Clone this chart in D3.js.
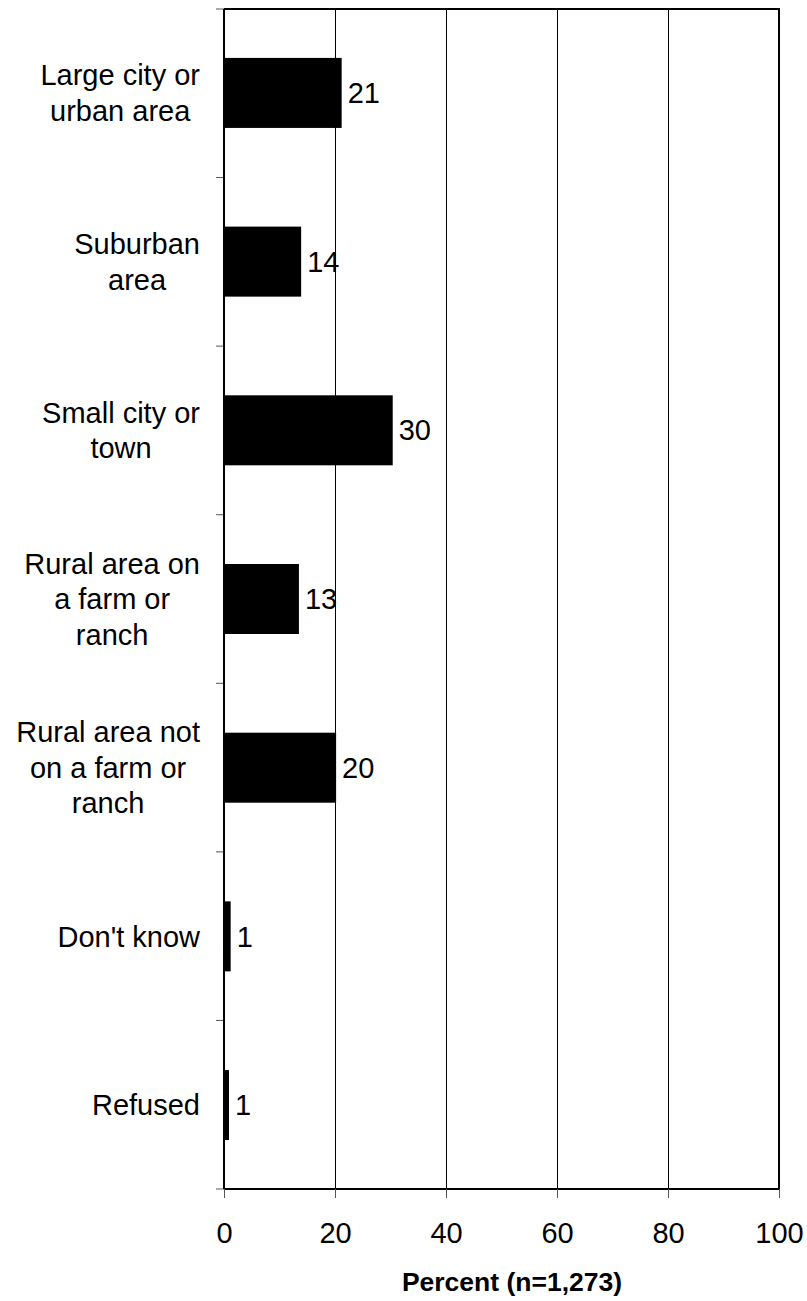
<!DOCTYPE html>
<html>
<head>
<meta charset="utf-8">
<script src="https://cdn.jsdelivr.net/npm/d3@7"></script>
<style>
  body { margin: 0; background: #fff; }
  svg text { font-family: "Liberation Sans", Arial, sans-serif; fill: #000; }
</style>
</head>
<body>
<div id="chart"></div>
<script>
// data
const categories = [
  ["Large city or", "urban area"],
  ["Suburban", "area"],
  ["Small city or", "town"],
  ["Rural area on", "a farm or", "ranch"],
  ["Rural area not", "on a farm or", "ranch"],
  ["Don't know"],
  ["Refused"]
]
const values = [21.2, 13.9, 30.4, 13.5, 20.2, 1.2, 0.9]
const valueLabels = ["21", "14", "30", "13", "20", "1", "1"]
const xTicks = [0, 20, 40, 60, 80, 100]
const xTitle = "Percent (n=1,273)"

const width = 807
const height = 1301
const margin = { top: 9, right: 28, bottom: 112, left: 224 }
const fontSize = 29

const svg = d3.select("#chart")
  .append("svg")
  .attr("width", width)
  .attr("height", height)

const x = d3.scaleLinear().domain([0, 100]).range([margin.left, width - margin.right])
const y = d3.scaleBand()
  .domain(d3.range(categories.length))
  .range([margin.top, height - margin.bottom])
  .paddingInner(0.585)
  .paddingOuter(0.29)

const plotTop = margin.top
const plotBottom = height - margin.bottom

// vertical grid lines
svg.append("g")
  .selectAll("line")
  .data(xTicks.slice(1, -1))
  .join("line")
  .attr("x1", d => Math.round(x(d)) + 0.5).attr("x2", d => Math.round(x(d)) + 0.5)
  .attr("y1", plotTop).attr("y2", plotBottom)
  .attr("stroke", "#000")
  .attr("stroke-width", 1)

// bars
svg.append("g")
  .selectAll("rect")
  .data(values)
  .join("rect")
  .attr("x", x(0))
  .attr("y", (d, i) => y(i))
  .attr("width", d => x(d) - x(0))
  .attr("height", y.bandwidth())
  .attr("fill", "#000")

// value labels
svg.append("g")
  .selectAll("text")
  .data(values)
  .join("text")
  .attr("x", d => x(d) + 6)
  .attr("y", (d, i) => y(i) + y.bandwidth() / 2)
  .attr("dy", "0.35em")
  .attr("font-size", fontSize)
  .text((d, i) => valueLabels[i])

// frame: top and right
svg.append("path")
  .attr("d", `M${x(0)},${plotTop}H${x(100)}V${plotBottom}`)
  .attr("fill", "none")
  .attr("stroke", "#000")
  .attr("stroke-width", 2)

// left axis with tick marks between categories
const step = (plotBottom - plotTop) / categories.length
const yAxis = svg.append("g")
yAxis.selectAll("line.tick")
  .data(d3.range(categories.length + 1))
  .join("line")
  .attr("class", "tick")
  .attr("x1", x(0) - 8).attr("x2", x(0))
  .attr("y1", d => plotTop + d * step).attr("y2", d => plotTop + d * step)
  .attr("stroke", "#555")
  .attr("stroke-width", 1)
yAxis.append("line")
  .attr("x1", x(0)).attr("x2", x(0))
  .attr("y1", plotTop).attr("y2", plotBottom)
  .attr("stroke", "#000")
  .attr("stroke-width", 2)

// category labels: lines centred within a block whose right edge is at 200
const lineH = 35.5
const labelRight = 200
svg.append("g")
  .selectAll("text")
  .data(categories)
  .join("text")
  .attr("text-anchor", "middle")
  .attr("font-size", fontSize)
  .attr("y", (d, i) => y(i) + y.bandwidth() / 2 - (d.length - 1) * lineH / 2)
  .each(function (d) {
    const t = d3.select(this)
    t.selectAll("tspan")
      .data(d)
      .join("tspan")
      .attr("x", 0)
      .attr("dy", (s, j) => j === 0 ? "0.35em" : lineH)
      .text(s => s)
    const maxW = d3.max(t.selectAll("tspan").nodes(), n => n.getComputedTextLength())
    t.selectAll("tspan").attr("x", labelRight - maxW / 2)
  })

// bottom axis
const xAxis = d3.axisBottom(x).tickValues(xTicks).tickSize(9).tickPadding(24).tickFormat(d3.format("d"))
const gx = svg.append("g")
  .attr("transform", `translate(0,${plotBottom})`)
  .call(xAxis)
gx.select(".domain").attr("stroke-width", 2).attr("d", `M${x(0)},0H${x(100)}`)
gx.selectAll(".tick line").attr("stroke", "#555")
gx.selectAll(".tick text")
  .attr("font-size", fontSize)
  .attr("font-family", "Liberation Sans, Arial, sans-serif")
  .attr("fill", "#000")

// axis title
svg.append("text")
  .attr("x", 512)
  .attr("y", 1291)
  .attr("text-anchor", "middle")
  .attr("font-size", 26.5)
  .attr("font-weight", "bold")
  .text(xTitle)
</script>
</body>
</html>
